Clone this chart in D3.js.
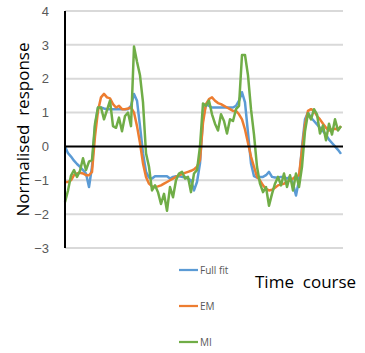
<!DOCTYPE html>
<html>
<head>
<meta charset="utf-8">
<script src="https://cdn.jsdelivr.net/npm/d3@7"></script>
<style>
  body { margin: 0; background: #fff; }
  svg { display: block; font-family: "Open Sans", "Liberation Sans", sans-serif; }
</style>
</head>
<body>
<div id="chart"></div>
<script>
// Data (93 time points)
const fullFit = [0.0, -0.2, -0.3, -0.42, -0.52, -0.6, -0.7, -0.8, -1.2, -0.6,
  0.6, 1.15, 1.15, 1.12, 1.1, 1.1, 1.1, 1.1, 1.1, 1.1,
  1.1, 1.1, 1.2, 1.55, 1.35, 0.6, -0.2, -0.75, -0.92, -0.95,
  -0.88, -0.88, -0.88, -0.88, -0.88, -0.95, -0.9, -0.88, -0.88, -0.9,
  -0.9, -0.95, -1.0, -1.3, -1.05, -0.5, 0.85, 1.25, 1.2, 1.15,
  1.15, 1.15, 1.15, 1.15, 1.15, 1.15, 1.15, 1.2, 1.35, 1.6,
  1.3, 0.4, -0.5, -0.88, -0.92, -0.9, -0.9, -0.85, -0.75, -0.9,
  -0.92, -0.92, -0.9, -0.9, -0.95, -0.9, -1.1, -1.45, -1.0, 0.0,
  0.8, 1.0, 0.85, 0.75, 0.65, 0.55, 0.45, 0.35, 0.2, 0.1,
  0.0, -0.1, -0.22];

const em = [-1.05, -1.05, -1.0, -0.85, -0.8, -0.78, -0.8, -0.85, -0.85, -0.75,
  0.3, 1.05, 1.45, 1.55, 1.45, 1.42, 1.25, 1.15, 1.2, 1.1,
  1.1, 1.12, 1.15, 1.0, 0.6, 0.1, -0.5, -0.9, -1.1, -1.18,
  -1.2, -1.18, -1.15, -1.1, -1.05, -1.0, -0.95, -0.9, -0.85, -0.82,
  -0.78, -0.75, -0.72, -0.68, -0.6, -0.4, 0.7, 1.25, 1.4, 1.45,
  1.35, 1.28, 1.25, 1.2, 1.15, 1.1, 1.05, 1.05, 0.95, 0.8,
  0.5, 0.1, -0.3, -0.6, -0.9, -1.0, -1.15, -1.25, -1.3, -1.28,
  -1.22, -1.15, -1.12, -1.1, -1.05, -1.0, -0.95, -0.88, -0.85, -0.1,
  0.65, 1.05, 1.1, 1.05, 0.9, 0.8, 0.67, 0.55, 0.47, 0.5,
  0.52, 0.5, 0.6];

const mi = [-1.65, -1.3, -0.86, -0.7, -0.9, -0.72, -0.35, -0.7, -0.45, -0.4,
  0.67, 1.15, 1.15, 0.8, 1.07, 1.35, 0.6, 0.55, 0.85, 0.45,
  0.9, 1.0, 0.6, 2.95, 2.5, 2.1, 1.3, -0.2, -0.6, -1.3,
  -1.15, -1.35, -1.7, -1.4, -1.9, -1.2, -1.5, -1.0, -0.8, -0.75,
  -0.95, -0.9, -1.35, -0.8, -0.7, 0.0, 1.27, 1.2, 1.35, 0.95,
  0.67, 0.47, 0.95, 0.75, 0.38, 0.8, 0.75, 1.1, 1.2, 2.7,
  2.7, 2.1, 1.1, 0.35, -0.6, -1.1, -1.35, -1.2, -1.75, -1.4,
  -1.1, -0.9, -1.15, -0.8, -1.2, -0.85, -1.3, -0.8, -1.2, -0.6,
  0.45, 0.98, 0.8, 1.1, 0.95, 0.38, 0.62, 0.18, 0.67, 0.35,
  0.8, 0.47, 0.6];

const seriesNames = ["Full fit", "EM", "MI"];
const seriesColors = ["#5B9BD5", "#ED7D31", "#70AD47"];
const yTicks = [-3, -2, -1, 0, 1, 2, 3, 4];

const W = 365, H = 353;
const svg = d3.select("#chart").append("svg")
    .attr("width", W)
    .attr("height", H);

const x = d3.scaleLinear().domain([0, fullFit.length - 1]).range([65, 341]);
const y = d3.scaleLinear().domain([-3, 4]).range([248, 11]);

// gridlines
svg.append("g")
    .selectAll("line")
    .data(yTicks.filter(d => d !== 0))
    .join("line")
    .attr("x1", 65)
    .attr("x2", 343)
    .attr("y1", d => y(d))
    .attr("y2", d => y(d))
    .attr("stroke", "#d9d9d9")
    .attr("stroke-width", 2);

// y axis labels
const yAxis = svg.append("g")
    .attr("transform", "translate(65,0)")
    .call(d3.axisLeft(y).tickValues(yTicks).tickSize(0).tickPadding(16).tickFormat(d3.format("d")));
yAxis.select(".domain").remove();
yAxis.selectAll("text")
    .attr("fill", "#595959")
    .style("font-size", "13px");

// series
const line = d3.line()
    .x((d, i) => x(i))
    .y(d => y(d));

[fullFit, em, mi].forEach((s, k) => {
    svg.append("path")
        .datum(s)
        .attr("fill", "none")
        .attr("stroke", seriesColors[k])
        .attr("stroke-width", 2.5)
        .attr("stroke-linejoin", "round")
        .attr("d", line);
});

// zero line and vertical axis
svg.append("line")
    .attr("x1", 65).attr("x2", 343)
    .attr("y1", y(0)).attr("y2", y(0))
    .attr("stroke", "#000").attr("stroke-width", 2);
svg.append("line")
    .attr("x1", 65).attr("x2", 65)
    .attr("y1", y(4)).attr("y2", y(-3))
    .attr("stroke", "#000").attr("stroke-width", 2);

// axis titles
svg.append("text")
    .attr("transform", `translate(29,${(y(4) + y(-3)) / 2}) rotate(-90)`)
    .attr("text-anchor", "middle")
    .style("font-size", "17px")
    .style("white-space", "pre")
    .attr("fill", "#000")
    .text("Normalised  response");

svg.append("text")
    .attr("x", 255)
    .attr("y", 288)
    .style("font-size", "17px")
    .style("white-space", "pre")
    .attr("fill", "#000")
    .text("Time  course");

// legend
const legend = svg.append("g")
    .selectAll("g")
    .data(seriesNames)
    .join("g")
    .attr("transform", (d, i) => `translate(179,${270 + i * 36})`);
legend.append("line")
    .attr("x1", 0).attr("x2", 19)
    .attr("stroke", (d, i) => seriesColors[i])
    .attr("stroke-width", 2.25);
legend.append("text")
    .attr("x", 21)
    .attr("dy", "0.35em")
    .style("font-size", "10px")
    .attr("fill", "#595959")
    .text(d => d);
</script>
</body>
</html>
